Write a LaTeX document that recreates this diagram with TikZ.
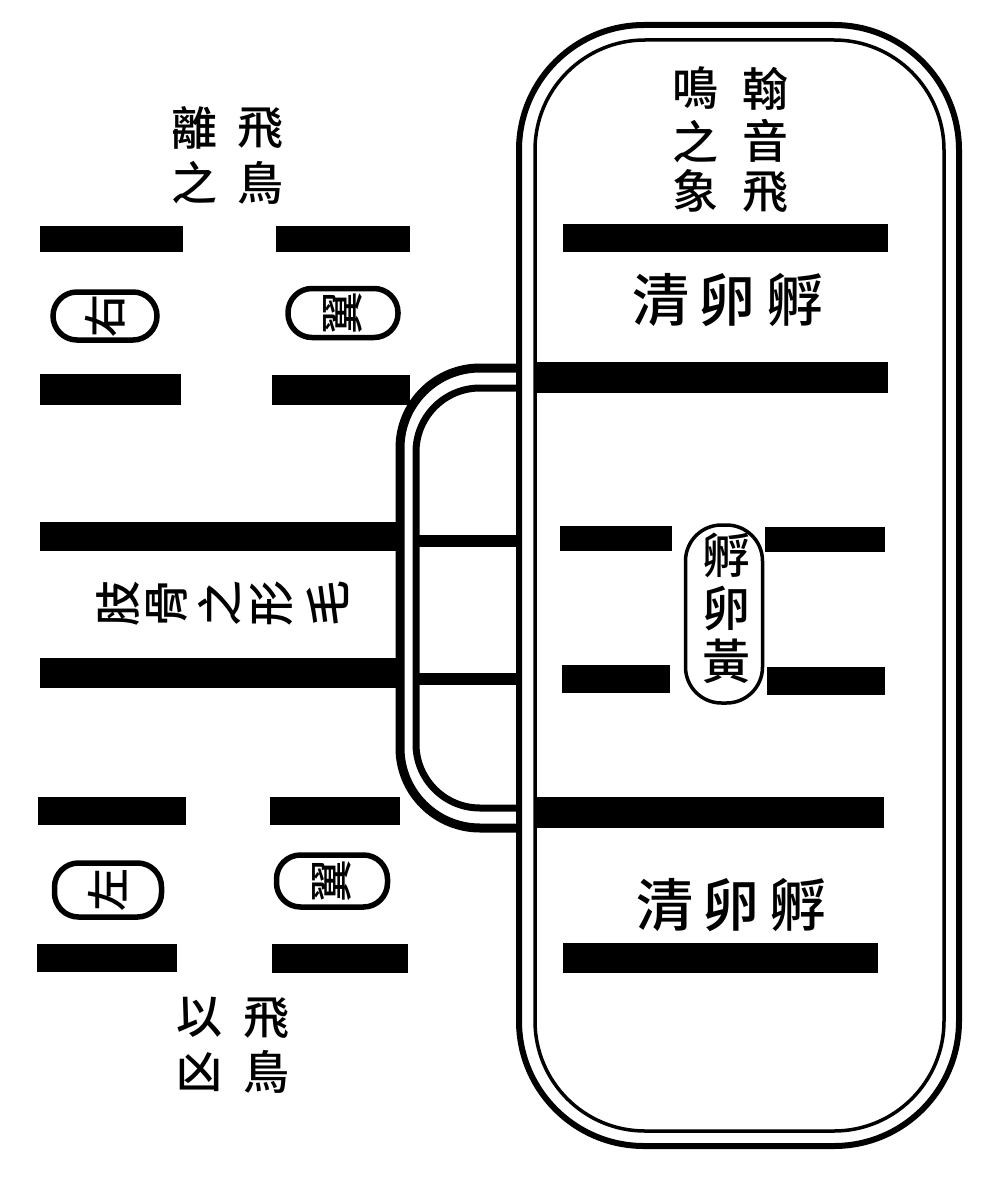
\documentclass[tikz,border=0pt]{standalone}
\usepackage{fontspec}
\newfontfamily\cjk{Noto Sans CJK TC Medium}
\begin{document}
\begin{tikzpicture}[x=1pt,y=-1pt,
  ch/.style={font=\cjk\fontsize{46}{46}\selectfont, inner sep=0pt},
  big/.style={font=\cjk\fontsize{57}{57}\selectfont, inner sep=0pt},
  yk/.style={font=\cjk\fontsize{48}{48}\selectfont, inner sep=0pt},
  rot/.style={font=\cjk\fontsize{46}{46}\selectfont, inner sep=0pt, rotate=90},
  tagch/.style={font=\cjk\fontsize{43}{43}\selectfont, inner sep=0pt, rotate=90},
  tag/.style={draw, line width=5.5pt, rounded corners=24pt, inner sep=0pt},
  capsule/.style={draw, line width=3.5pt, rounded corners=36pt, inner sep=0pt,
    minimum width=77pt, minimum height=178pt},
]
\useasboundingbox[fill=white] (0,0) rectangle (999,1199);

% ---- left hexagram (Xiao Guo) ----
\fill (40,226) rectangle (183,252);  \fill (276,226) rectangle (410,252);
\fill (40,374) rectangle (181,405);  \fill (272,375) rectangle (410,405);
\fill (40,522) rectangle (400,551);
\fill (40,658) rectangle (400,688);
\fill (38,797) rectangle (186,825);  \fill (270,797) rectangle (400,825);
\fill (37,944) rectangle (177,972);  \fill (272,944) rectangle (408,973);

% ---- right hexagram (Zhong Fu) ----
\fill (563,224) rectangle (888,252);
\fill (537,362) rectangle (888,393);
\fill (560,526) rectangle (672,551);  \fill (765,527) rectangle (885,552);
\fill (562,665) rectangle (670,693);  \fill (767,667) rectangle (885,695);
\fill (537,797) rectangle (884,828);
\fill (563,943) rectangle (878,973);

% ---- stadium outline ----
\draw[line width=6pt, rounded corners=125pt] (519,25) rectangle (959,1146);
\draw[line width=3.5pt, rounded corners=110pt] (535,40) rectangle (944,1131);

% ---- loop joining the two ----
\draw[line width=9pt, rounded corners=80pt] (521,368) -- (400,368) -- (400,828) -- (521,828);
\draw[line width=7pt, rounded corners=64pt] (521,388) -- (416,388) -- (416,808) -- (521,808);
\draw[line width=12pt] (414,541) -- (521,541);
\draw[line width=12pt] (414,679) -- (521,679);

% ---- top-left label ----
\node[ch] (a1) at (260,128) {飛};
\node[ch] (a2) at (260,183) {鳥};
\node[ch] (a3) at (194,128) {離};
\node[ch] (a4) at (194,183) {之};

% ---- bottom-left label ----
\node[ch] (b1) at (266,1018) {飛};
\node[ch] (b2) at (266,1072) {鳥};
\node[ch] (b3) at (199,1017) {以};
\node[ch] (b4) at (199,1072) {凶};

% ---- wing tags ----
\node[tag, minimum width=104pt, minimum height=48pt] (tagA) at (105,316) {};
\node[tagch] (tA) at (tagA) {右};
\node[tag, minimum width=110pt, minimum height=49pt] (tagB) at (343,313) {};
\node[tagch] (tB) at (tagB) {翼};
\node[tag, minimum width=107pt, minimum height=54pt] (tagC) at (108,890) {};
\node[tagch] (tC) at (tagC) {左};
\node[tag, minimum width=111pt, minimum height=52pt] (tagD) at (332,881) {};
\node[tagch] (tD) at (tagD) {翼};

% ---- rotated middle text ----
\node[rot] (m1) at (118,603) {肢};
\node[rot] (m2) at (167,603) {骨};
\node[rot] (m3) at (220,603) {之};
\node[rot] (m4) at (272,603) {形};
\node[rot] (m5) at (328,603) {毛};

% ---- top-right label ----
\node[ch] (c1) at (765,89) {翰};
\node[ch] (c2) at (765,141) {音};
\node[ch] (c3) at (765,192) {飛};
\node[ch] (c4) at (695,88) {鳴};
\node[ch] (c5) at (695,142) {之};
\node[ch] (c6) at (695,191) {象};

% ---- egg white labels ----
\node[big] (w1) at (661,300) {清};
\node[big] (w2) at (727,300) {卵};
\node[big] (w3) at (795,300) {孵};
\node[big] (w4) at (665,905) {清};
\node[big] (w5) at (731,905) {卵};
\node[big] (w6) at (798,905) {孵};

% ---- yolk capsule ----
\node[capsule] (yolk) at (724,614) {};
\node[yk] (y1) at (726,555) {孵};
\node[yk] (y2) at (726,608) {卵};
\node[yk] (y3) at (726,661) {黃};
\end{tikzpicture}
\end{document}
